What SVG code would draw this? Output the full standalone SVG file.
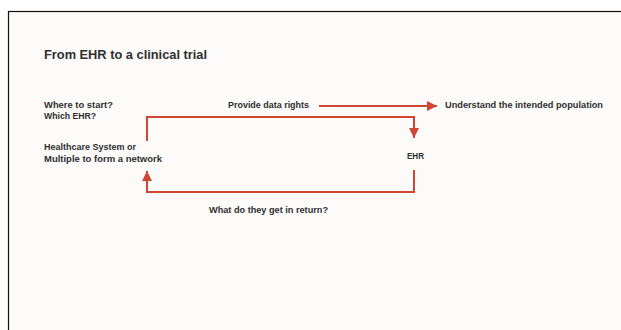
<svg xmlns="http://www.w3.org/2000/svg" width="621" height="330" viewBox="0 0 621 330">
  <style>
    .t { font-family: "Liberation Sans", Arial, sans-serif; font-weight: bold; fill: #2f2f2f; font-size: 8.8px; }
    .title { font-size: 13.5px; }
    .flow { fill: none; stroke: #d14532; stroke-width: 2; }
  </style>
  <defs>
    <marker id="head" viewBox="0 0 10 10" refX="10" refY="5" markerWidth="10" markerHeight="10" markerUnits="userSpaceOnUse" orient="auto">
      <path d="M0,0 L10,5 L0,10 Z" fill="#d14532"/>
    </marker>
  </defs>

  <!-- page -->
  <rect x="0" y="0" width="621" height="330" fill="#ffffff"/>
  <rect x="8.5" y="11.5" width="620" height="330" fill="#fcfbfa" stroke="#111" stroke-width="1.2"/>

  <text class="t title" x="44" y="59" textLength="163" lengthAdjust="spacingAndGlyphs">From EHR to a clinical trial</text>

  <g id="start">
    <text class="t" x="44" y="108" textLength="69" lengthAdjust="spacingAndGlyphs">Where to start?</text>
    <text class="t" x="44" y="119" textLength="52" lengthAdjust="spacingAndGlyphs">Which EHR?</text>
  </g>

  <g id="healthcare">
    <text class="t" x="44" y="150" textLength="92" lengthAdjust="spacingAndGlyphs">Healthcare System or</text>
    <text class="t" x="44" y="162" textLength="118" lengthAdjust="spacingAndGlyphs">Multiple to form a network</text>
  </g>

  <g id="ehr">
    <text class="t" x="407" y="159" textLength="17" lengthAdjust="spacingAndGlyphs">EHR</text>
  </g>

  <g id="population">
    <text class="t" x="445" y="108" textLength="158" lengthAdjust="spacingAndGlyphs">Understand the intended population</text>
  </g>

  <g id="labels">
    <text class="t" x="228" y="108" textLength="81" lengthAdjust="spacingAndGlyphs">Provide data rights</text>
    <text class="t" x="209" y="213" textLength="119" lengthAdjust="spacingAndGlyphs">What do they get in return?</text>
  </g>

  <g id="connectors">
    <path class="flow" d="M319,106 L437,106" marker-end="url(#head)"/>
    <path class="flow" d="M147,141 L147,117 L414,117 L414,138" marker-end="url(#head)"/>
    <path class="flow" d="M414,170 L414,192 L147,192 L147,171" marker-end="url(#head)"/>
  </g>
</svg>
